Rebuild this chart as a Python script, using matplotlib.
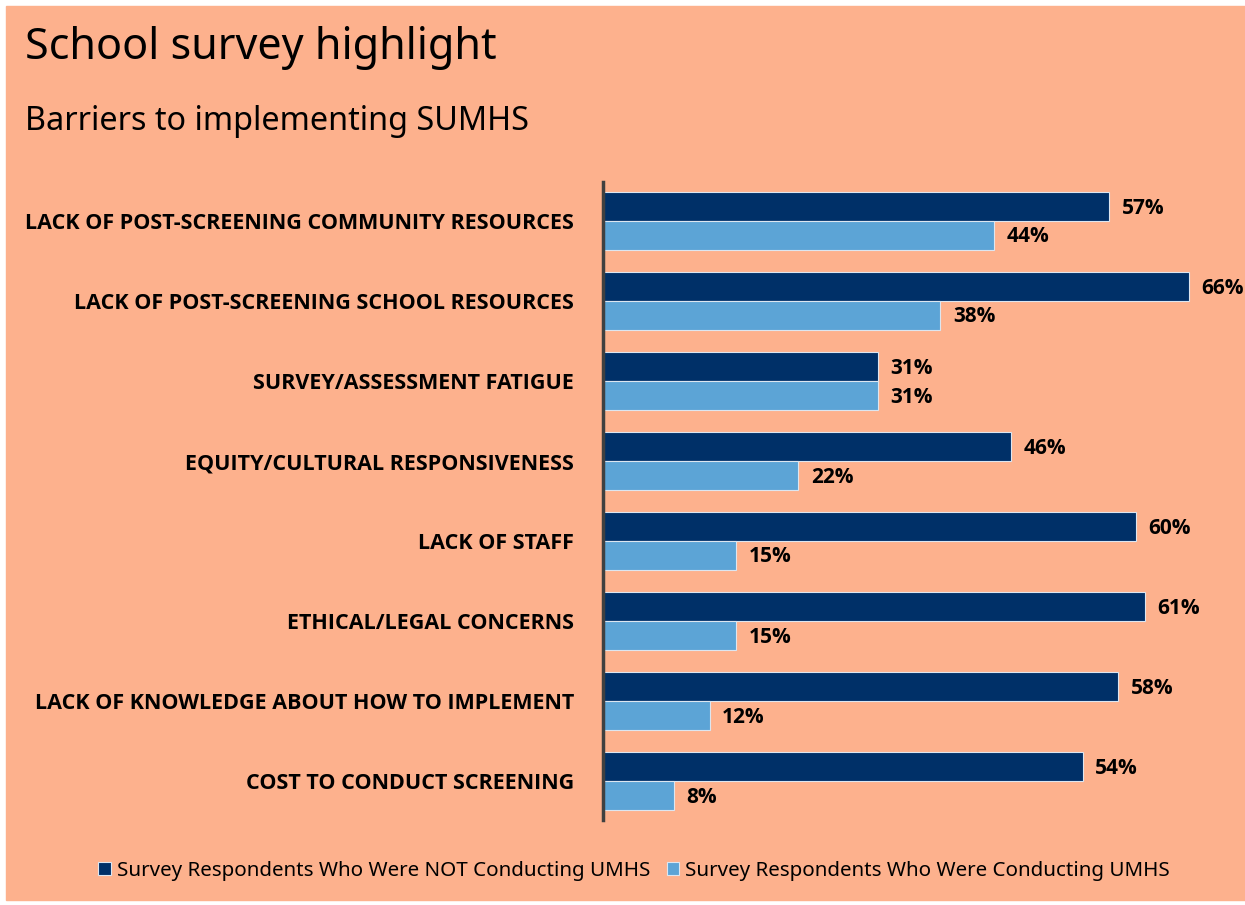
import matplotlib.pyplot as plt
import numpy as np
from matplotlib.patches import Rectangle

# dados do gráfico
categorias = [
    "LACK OF POST-SCREENING COMMUNITY RESOURCES",
    "LACK OF POST-SCREENING SCHOOL RESOURCES",
    "SURVEY/ASSESSMENT FATIGUE",
    "EQUITY/CULTURAL RESPONSIVENESS",
    "LACK OF STAFF",
    "ETHICAL/LEGAL CONCERNS",
    "LACK OF KNOWLEDGE ABOUT HOW TO IMPLEMENT",
    "COST TO CONDUCT SCREENING",
]
nao_conduzindo = [57, 66, 31, 46, 60, 61, 58, 54]
conduzindo = [44, 38, 31, 22, 15, 15, 12, 8]
serie_nomes = ["Survey Respondents Who Were NOT Conducting UMHS",
               "Survey Respondents Who Were Conducting UMHS"]

fundo = "#FDB18D"
azul_escuro = "#003068"
azul_claro = "#5CA4D6"
fonte = ["Noto Sans", "DejaVu Sans"]
fonte_negrito = ["Open Sans", "DejaVu Sans"]

fig = plt.figure(figsize=(12.45, 9.05), dpi=100)
fig.patch.set_facecolor("white")

# eixo de fundo só para o retângulo salmão
bg = fig.add_axes([0, 0, 1, 1], zorder=-1)
bg.set_axis_off()
bg.add_patch(Rectangle((6 / 1245, 0.005), 1, 1 - 6 / 905 - 0.005,
                       transform=bg.transAxes, color=fundo))

fig.text(25 / 1245, 1 - 48 / 905, "School survey highlight", fontsize=31,
         family=fonte, va="center", ha="left")
fig.text(25 / 1245, 1 - 122 / 905, "Barriers to implementing SUMHS", fontsize=23.3,
         family=fonte, va="center", ha="left")

ax = fig.add_axes([603 / 1245, 1 - 820 / 905, 1 - 603 / 1245, (820 - 182) / 905], zorder=2)
ax.set_facecolor("none")

y = np.arange(len(categorias))
h = 0.36
ax.barh(y - h / 2, nao_conduzindo, height=h, color=azul_escuro,
        edgecolor="#dde6f0", linewidth=0.8, label=serie_nomes[0])
ax.barh(y + h / 2, conduzindo, height=h, color=azul_claro,
        edgecolor="#dde6f0", linewidth=0.8, label=serie_nomes[1])

# rótulos de valor ao fim de cada barra
for i in range(len(categorias)):
    ax.text(nao_conduzindo[i] + 1.4, y[i] - h / 2 + 0.02, f"{nao_conduzindo[i]}%",
            va="center", ha="left", fontsize=15, fontweight="bold", family=fonte_negrito)
    ax.text(conduzindo[i] + 1.4, y[i] + h / 2 + 0.02, f"{conduzindo[i]}%",
            va="center", ha="left", fontsize=15, fontweight="bold", family=fonte_negrito)

ax.set_xlim(0, 72.3)
ax.set_ylim(len(categorias) - 0.5125, -0.4875)
ax.set_yticks(y)
ax.set_yticklabels(categorias, fontsize=15.5, fontweight="bold", family=fonte_negrito)
ax.tick_params(axis="y", length=0, pad=21)
ax.set_xticks([])
for lado in ["top", "right", "bottom"]:
    ax.spines[lado].set_visible(False)
ax.spines["left"].set_color("#404040")
ax.spines["left"].set_linewidth(2.5)

handles, rotulos = ax.get_legend_handles_labels()
fig.legend(handles, rotulos, loc="center", bbox_to_anchor=(634 / 1245, 1 - 871 / 905), ncol=2,
           frameon=False, handlelength=0.6, handleheight=0.6,
           handletextpad=0.3, columnspacing=0.8,
           prop={"family": fonte, "size": 14.8})

fig.savefig("out.png", dpi=100, facecolor=fig.get_facecolor())
